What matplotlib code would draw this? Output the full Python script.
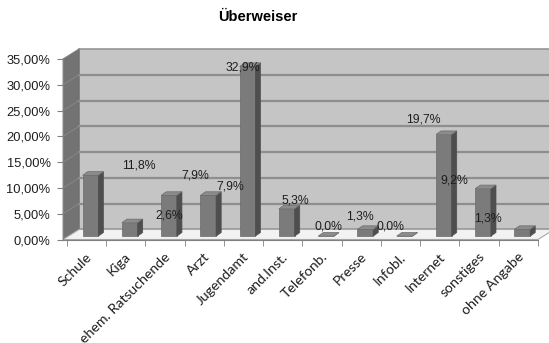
import matplotlib.pyplot as plt
import matplotlib.transforms as mtransforms
from matplotlib.patches import Polygon

# Daten
kategorien = ["Schule", "Kiga", "ehem. Ratsuchende", "Arzt", "Jugendamt", "and.Inst.",
              "Telefonb.", "Presse", "Infobl.", "Internet", "sonstiges", "ohne Angabe"]
anteile = [11.8, 2.6, 7.9, 7.9, 32.9, 5.3, 0.0, 1.3, 0.0, 19.7, 9.2, 1.3]

# Lage der Beschriftungen (Excel-3D setzt sie verschoben)
label_dx = [1.33, 1.11, 0.78, 0.67, -0.02, 0.32, 0.16, -0.03, -0.25, -0.42, -0.64, -0.77]
label_y = [14.3, 4.6, 12.5, 10.2, 33.4, 7.5, 2.5, 4.4, 2.5, 23.3, 11.4, 4.1]

plt.rcParams['font.family'] = ['Liberation Sans', 'DejaVu Sans']

fig = plt.figure(figsize=(5.49, 3.43), dpi=100)
ax = fig.add_axes([63 / 549, 103.5 / 343, 475 / 549, 180.5 / 343])
n = len(kategorien)
x0, x1 = -0.6, n - 0.5
ax.set_xlim(x0, x1)
ax.set_ylim(0, 35)

# 3D-Tiefe
DX, DY = 0.41, 1.95

ax.add_patch(Polygon([(x0 + DX, DY), (x1 + DX + 0.3, DY), (x1 + DX + 0.3, 35 + DY), (x0 + DX, 35 + DY)],
                     closed=True, fc="#c5c5c5", ec="#959595", lw=1.2, clip_on=False, zorder=0))
ax.add_patch(Polygon([(x0, 0), (x0 + DX, DY), (x0 + DX, 35 + DY), (x0, 35)],
                     closed=True, fc="#737373", ec="#6a6a6a", lw=0.5, clip_on=False, zorder=0))
ax.add_patch(Polygon([(x0, 0), (x1, 0), (x1 + DX, DY), (x0 + DX, DY)],
                     closed=True, fc="#f2f2f2", ec="#a8a8a8", lw=0.8, clip_on=False, zorder=0.5))

for v in range(5, 35, 5):
    ax.plot([x0 + DX, x1 + DX + 0.3], [v + DY, v + DY], color="#8e8e8e", lw=1.6,
            clip_on=False, zorder=0.6)
for v in range(5, 40, 5):
    ax.plot([x0, x0 + DX], [v, v + DY], color="#8a8a8a", lw=0.6, clip_on=False, zorder=0.6)

# Balken
bw, bx, by = 0.40, 0.1, 0.65
sdx, sdy = 0.13, 0.7
for i, v in enumerate(anteile):
    l = i - bw / 2 + bx
    r = l + bw
    b = by
    t = by + v
    ax.add_patch(Polygon([(l, b), (r, b), (r, t), (l, t)], closed=True,
                         fc="#7b7b7b", ec="#6a6a6a", lw=0.5, zorder=2, clip_on=False))
    ax.add_patch(Polygon([(r, b), (r + sdx, b + sdy), (r + sdx, t + sdy), (r, t)], closed=True,
                         fc="#4e4e4e", ec="#4e4e4e", lw=0.5, zorder=2, clip_on=False))
    ax.add_patch(Polygon([(l, t), (r, t), (r + sdx, t + sdy), (l + sdx, t + sdy)], closed=True,
                         fc="#8c8c8c", ec="#6a6a6a", lw=0.5, zorder=2, clip_on=False))

for i, v in enumerate(anteile):
    txt = f"{v:.1f}%".replace(".", ",")
    ax.text(i + label_dx[i], label_y[i], txt, ha="center", va="center",
            fontsize=8.8, color="#1e1e1e", zorder=3, clip_on=False)

# Achsen
for s in ["top", "right"]:
    ax.spines[s].set_visible(False)
ax.spines["left"].set_color("#808080")
ax.spines["bottom"].set_color("#808080")
ax.set_yticks(range(0, 40, 5))
ax.set_yticklabels([f"{v},00%" for v in range(0, 40, 5)], fontsize=9.3, color="#1e1e1e")
ax.set_xticks(range(n))
ax.set_xticklabels(kategorien, rotation=45, ha="right", rotation_mode="anchor",
                   fontsize=10.2, family=["Lato", "DejaVu Sans"], color="#1e1e1e")
ax.set_xticks([i - 0.5 for i in range(n + 1)], minor=True)
ax.tick_params(axis="x", which="major", length=0, pad=8)
ax.tick_params(axis="x", which="minor", length=4, color="#808080")
ax.tick_params(axis="y", length=4, color="#808080", pad=5)
shift = mtransforms.ScaledTranslation(-1 / 100, 0, fig.dpi_scale_trans)
for lab in ax.get_xticklabels():
    lab.set_transform(lab.get_transform() + shift)

fig.text(258 / 549, 1 - 17 / 343, "Überweiser", ha="center", va="center",
         fontsize=10.5, fontweight="bold")

fig.savefig("out.png", dpi=100)
